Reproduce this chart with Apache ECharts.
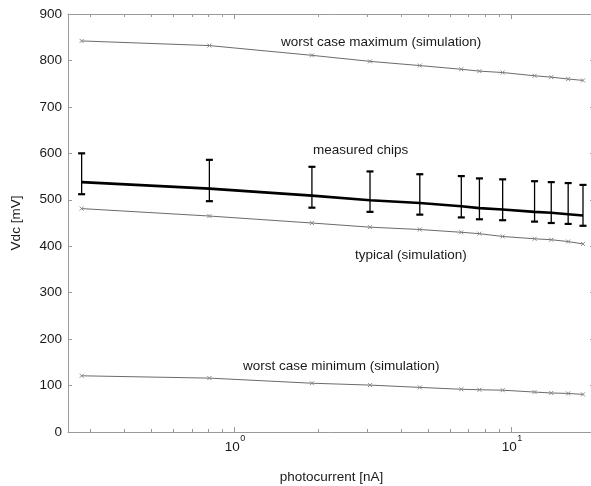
<!DOCTYPE html>
<html>
<head>
<meta charset="utf-8">
<script src="https://cdn.jsdelivr.net/npm/echarts@6/dist/echarts.min.js"></script>
<style>
  html, body { margin: 0; padding: 0; background: #fff; }
  #chart { width: 591px; height: 486px; }
</style>
</head>
<body>
<div id="chart"></div>
<script>
// Photocurrent operating points [nA]
const photocurrent = [0.28, 0.81, 1.9, 3.08, 4.66, 6.58, 7.65, 9.28, 12.1, 13.9, 16.0, 18.1];

// Measured chips: mean and spread [mV]
const measuredMean = [538, 524, 509, 499, 493, 486, 482, 479, 474, 472, 469, 466];
const measuredHigh = [600, 586, 571, 561, 555, 551, 546, 544, 540, 538, 536, 532];
const measuredLow  = [512, 497, 483, 474, 468, 462, 458, 456, 453, 450, 448, 444];

// Simulation results [mV]
const typicalSim  = [481, 465, 450, 441, 436, 430, 427, 421, 416, 414, 410, 405];
const worstMaxSim = [842, 832, 811, 798, 789, 781, 777, 774, 767, 764, 760, 757];
const worstMinSim = [121, 116, 105, 101, 96, 92, 91, 90, 86, 84, 83, 81];

// Axis tick values
const majorTicksX = [1, 10];
const minorTicksX = [0.3, 0.4, 0.5, 0.6, 0.7, 0.8, 0.9, 2, 3, 4, 5, 6, 7, 8, 9, 20];

const FONT = "'Liberation Sans', Arial, Helvetica, sans-serif";
const AXIS_GRAY = '#9a9a9a';
const TEXT = '#1a1a1a';

const pairs = (ys) => photocurrent.map((x, i) => [x, ys[i]]);

const crossSymbol = 'path://M0,0L10,10M10,0L0,10';

function simSeries(name, ys) {
  return {
    name: name,
    type: 'line',
    data: pairs(ys),
    symbol: crossSymbol,
    symbolSize: 4,
    showSymbol: true,
    itemStyle: { color: 'none', borderColor: '#8a8a8a', borderWidth: 1 },
    lineStyle: { color: '#5a5a5a', width: 0.9 },
    emphasis: { disabled: true },
    z: 3
  };
}

// Log axis spanning the photocurrent range; decade mantissa and exponent
// labels are drawn by two stacked bottom axes.
function logAxis(position, ticks, length, withLine, label) {
  return {
    type: 'log',
    logBase: 10,
    position: position,
    min: 0.25,
    max: 20,
    axisLine: { show: withLine, onZero: false, lineStyle: { color: AXIS_GRAY, width: 1 } },
    axisTick: { show: true, inside: true, length: length, customValues: ticks,
                lineStyle: { color: AXIS_GRAY, width: 1 } },
    axisLabel: label || { show: false },
    splitLine: { show: false },
    minorTick: { show: false }
  };
}

const baseLabel = {
  show: true,
  customValues: majorTicksX,
  margin: 8,
  formatter: () => '10',
  fontFamily: FONT, fontSize: 13.5, color: TEXT, lineHeight: 14,
  padding: [0, 5, 0, 0]
};
const expLabel = {
  show: true,
  customValues: majorTicksX,
  margin: 2,
  formatter: (v) => String(Math.round(Math.log10(v))),
  fontFamily: FONT, fontSize: 9, color: TEXT, lineHeight: 10,
  padding: [0, 0, 0, 16]
};

const bottomMajor = logAxis('bottom', majorTicksX, 5, true, baseLabel);
bottomMajor.name = 'photocurrent [nA]';
bottomMajor.nameLocation = 'middle';
bottomMajor.nameGap = 38;
bottomMajor.nameTextStyle = { fontFamily: FONT, fontSize: 13.5, color: TEXT };

const chart = echarts.init(document.getElementById('chart'), null, { renderer: 'canvas' });

chart.setOption({
  animation: false,
  backgroundColor: '#ffffff',
  grid: { left: 68, top: 14, width: 527, height: 418, containLabel: false, outerBoundsMode: 'none' },
  xAxis: [
    bottomMajor,
    logAxis('bottom', minorTicksX, 3, false, expLabel),
    logAxis('top', majorTicksX, 5, true),
    logAxis('top', minorTicksX, 3, false)
  ],
  yAxis: [
    {
      type: 'value',
      position: 'left',
      min: 0, max: 900, interval: 100,
      axisLine: { show: true, onZero: false, lineStyle: { color: AXIS_GRAY, width: 1 } },
      axisTick: { show: true, inside: true, length: 4, lineStyle: { color: AXIS_GRAY } },
      axisLabel: { margin: 6, fontFamily: FONT, fontSize: 13.5, color: TEXT },
      splitLine: { show: false },
      name: 'Vdc [mV]',
      nameLocation: 'middle',
      nameGap: 45,
      nameRotate: 90,
      nameTextStyle: { fontFamily: FONT, fontSize: 13.5, color: TEXT }
    },
    {
      type: 'value',
      position: 'right',
      min: 0, max: 900, interval: 100,
      axisLine: { show: true, onZero: false, lineStyle: { color: AXIS_GRAY, width: 1 } },
      axisTick: { show: true, inside: true, length: 5, lineStyle: { color: AXIS_GRAY } },
      axisLabel: { show: false },
      splitLine: { show: false }
    }
  ],
  series: [
    simSeries('worst case maximum (simulation)', worstMaxSim),
    simSeries('typical (simulation)', typicalSim),
    simSeries('worst case minimum (simulation)', worstMinSim),
    {
      name: 'measured chips',
      type: 'line',
      data: pairs(measuredMean),
      showSymbol: false,
      symbol: 'none',
      lineStyle: { color: '#000', width: 2.6 },
      emphasis: { disabled: true },
      z: 4
    },
    {
      name: 'measured spread',
      type: 'custom',
      data: photocurrent.map((x, i) => [x, measuredLow[i], measuredHigh[i]]),
      encode: { x: 0, y: [1, 2] },
      renderItem: function (params, api) {
        const x = api.value(0);
        const lo = api.coord([x, api.value(1)]);
        const hi = api.coord([x, api.value(2)]);
        const cap = 3.5;
        return {
          type: 'group',
          children: [
            { type: 'line', shape: { x1: hi[0], y1: hi[1], x2: lo[0], y2: lo[1] },
              style: { stroke: '#000', lineWidth: 1.3 } },
            { type: 'line', shape: { x1: hi[0] - cap, y1: hi[1], x2: hi[0] + cap, y2: hi[1] },
              style: { stroke: '#000', lineWidth: 2.2 } },
            { type: 'line', shape: { x1: lo[0] - cap, y1: lo[1], x2: lo[0] + cap, y2: lo[1] },
              style: { stroke: '#000', lineWidth: 2.2 } }
          ]
        };
      },
      z: 5
    }
  ],
  graphic: [
    { type: 'text', left: 281, top: 35,
      style: { text: 'worst case maximum (simulation)', font: '13.5px ' + FONT, fill: TEXT } },
    { type: 'text', left: 313, top: 143,
      style: { text: 'measured chips', font: '13.5px ' + FONT, fill: TEXT } },
    { type: 'text', left: 355, top: 248,
      style: { text: 'typical (simulation)', font: '13.5px ' + FONT, fill: TEXT } },
    { type: 'text', left: 243, top: 359,
      style: { text: 'worst case minimum (simulation)', font: '13.5px ' + FONT, fill: TEXT } }
  ]
});
</script>
</body>
</html>
